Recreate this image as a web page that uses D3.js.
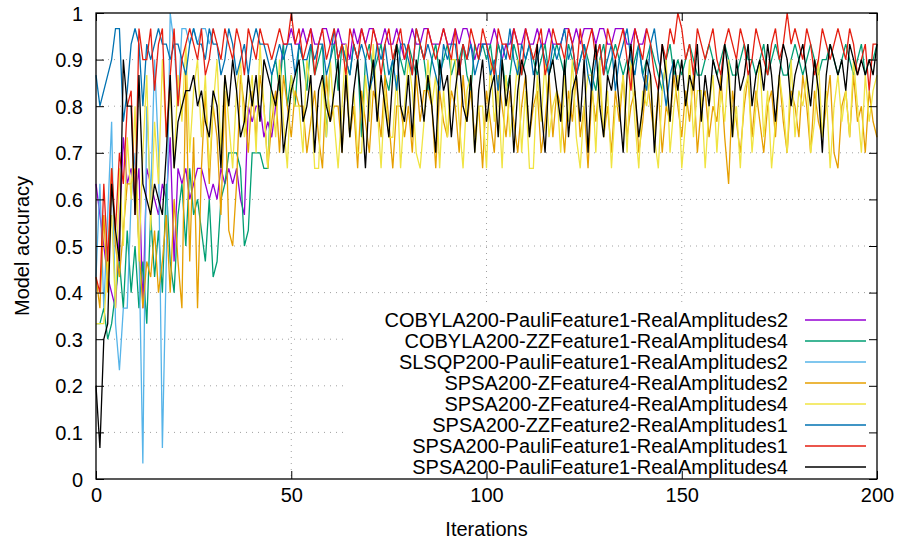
<!DOCTYPE html>
<html>
<head>
<meta charset="utf-8">
<script src="https://cdn.jsdelivr.net/npm/d3@7"></script>
<style>
  body { margin: 0; background: #fff; }
  svg text { font-family: "Liberation Sans", Arial, Helvetica, sans-serif; fill: #000; }
</style>
</head>
<body>
<div id="chart"></div>
<script>
// Correct answers out of 30 test samples, one value per iteration (starting at 0)
const TEST_SIZE = 30;

const cobylaPauliRA2 = [
  19,17,15,13,12,11,16,22,19,20, 18,20,11,20,19,18,17,19,18,22,
  14,20,19,20,18,19,20,20,19,18, 19,18,20,19,20,19,20,18,17,24,
  23,24,24,22,23,22,24,26,28,28, 29,28,28,29,28,29,28,28,29,29,
  28,28,29,28,28,27,29,28,29,28, 29,29,28,28,29,28,28,29,28,27,
  28,29,28,28,29,29,28,28,28,29, 28,28,29,28,29,29,28,27,28,28,
  28,28,29,28,27,28,28,29,28,28, 29,28,28,29,28,28,29,28,28,28,
  29,29,28,29,28,29,29,29,28,29, 29,28,28,29,29,29,28,28,29,28,
  28,29
];

const cobylaZZRA4 = [
  10,10,11,9,10,12,14,11,16,12, 15,11,14,10,17,13,16,12,19,14,
  12,17,19,15,20,17,18,16,14,18, 13,14,18,19,21,21,21,20,15,16,
  21,21,21,20,20,26,27,25,28,24, 26,24,28,27,25,28,26,27,28,22,
  27,28,25,28,27,26,28,27,22,27, 28,26,27,28,26,25,27,28,27,26,
  28,27,26,28,27,25,27,28,26,27, 28,26,27,27,28,26,25,28,27,28,
  27,28,26,28,27,25,26,28,27,26, 27,28,27,26,27,28,26,27,28,27,
  26,28,27,26,27,28,27,26,25,27, 28,26,27,28,27,26,27,26,27,28,
  26,27,28,27,26,25,27,28,26,27, 26,27,28,27,26,26,27,28,27,26,
  27,28,27,26,26,27,28,27,27,26, 27,28,26,27,28,27,26,26,27,28,
  27,26,27,28,27,26,27,27,28,27, 26,27,28,27,26,27,28,26,27,27,
  28
];

const slsqpPauliRA2 = [
  13,19,11,17,23,10,7,11,11,18, 21,15,1,24,18,27,21,2,14,30,
  28,24,29,29,28,29,28,29,29,28, 29
];

const spsaZRA2 = [
  13,11,17,12,20,15,13,16,19,19, 20,15,11,14,13,16,12,14,17,12,
  18,14,11,26,14,22,11,20,25,19, 24,22,17,25,16,15,19,26,24,21,
  25,22,26,24,20,23,25,21,26,24, 22,25,24,24,21,23,25,22,20,26,
  23,24,24,21,26,22,24,20,25,23, 21,25,24,22,26,23,20,24,24,22,
  24,21,26,23,25,25,24,20,25,23, 22,25,24,21,26,23,25,22,24,20,
  25,23,21,26,24,22,25,23,21,24, 26,22,24,25,21,23,26,22,25,24,
  21,25,23,26,22,24,20,25,23,26, 22,24,21,25,23,26,22,24,25,21,
  23,26,24,22,25,21,24,23,26,24, 22,25,23,26,21,24,25,22,24,23,
  26,22,19,25,23,21,24,26,22,25, 23,21,24,25,22,26,23,21,25,24,
  22,26,24,21,25,23,22,24,26,21, 20,24,25,22,26,23,24,21,25,23,
  22
];

const spsaZRA4 = [
  10,10,10,14,17,11,20,15,22,18, 24,14,21,26,16,23,19,27,22,25,
  20,26,23,28,21,25,27,22,26,20, 24,27,21,26,23,20,25,27,22,24,
  26,21,28,24,20,25,22,27,23,20, 26,24,24,21,27,25,20,20,26,22,
  27,23,20,24,28,22,25,21,21,26, 23,28,24,20,25,22,22,26,20,24,
  27,25,21,20,23,27,24,26,20,25, 22,27,27,23,20,25,26,21,24,24,
  20,27,23,25,20,26,22,24,27,21, 25,20,20,26,23,27,22,24,25,21,
  26,23,27,22,20,24,26,26,21,27, 22,25,20,24,24,26,21,27,23,20,
  25,24,26,22,20,25,27,21,24,26, 20,23,27,22,25,25,20,24,26,21,
  25,23,27,22,24,20,25,26,21,24, 27,22,25,20,23,26,24,21,27,22,
  25,24,26,21,23,27,22,25,20,24, 26,23,25,22,27,24,21,26,23,25,
  26
];

const spsaZZRA1 = [
  26,24,25,26,27,29,29,23,25,28, 29,28,24,28,27,28,29,28,28,27,
  28,28,27,26,28,29,28,28,27,29, 28,28,26,27,29,28,26,27,28,26,
  28,29,28,28,27,26,27,28,27,28, 28,26,28,27,27,28,27,28,28,26,
  27,29,27,28,27,26,28,27,28,27, 25,26,28,27,28,26,27,25,28,28,
  27,26,29,28,27,28,27,26,25,28, 27,28,28,26,28,27,28,26,27,28,
  28,26,27,25,28,27,29,27,26,28, 27,28,26,27,28,27,26,28,27,28,
  29,27,28,26,27,28,26,25,27,28, 26,27,28,25,27,28,29,27,26,28,
  26,25,28,29,27,26,24,26,27
];

const spsaPauliRA1 = [
  13,12,19,14,20,16,21,19,24,25, 17,29,27,27,29,25,28,29,22,26,
  29,24,27,28,29,28,27,29,26,27, 29,28,27,29,28,27,29,28,26,29,
  28,27,29,28,28,27,28,29,28,28, 30,28,29,27,28,29,26,28,29,27,
  28,29,27,28,26,29,28,27,29,28, 27,29,28,26,28,29,27,28,29,27,
  28,26,29,28,27,29,28,27,28,29, 28,27,29,26,28,27,29,28,27,29,
  28,27,26,29,28,28,27,29,28,26, 29,28,27,28,29,26,27,29,28,28,
  27,29,28,26,29,27,28,29,27,28, 26,29,28,27,28,29,27,25,29,28,
  27,29,28,26,25,28,27,29,28,30, 29,27,28,26,29,28,27,28,29,27,
  26,28,29,28,27,29,28,26,27,29, 28,27,26,28,29,27,28,30,28,29,
  28,27,29,28,26,27,29,28,27,28, 29,28,27,29,28,26,27,28,25,28,
  28
];

const spsaPauliRA4 = [
  6,2,9,10,19,16,14,27,24,24, 17,26,19,18,17,19,18,17,21,26,
  20,23,24,25,25,26,24,25,23,22, 25,24,20,26,24,27,25,22,23,26,
  24,26,23,27,26,25,24,26,21,23, 25,26,27,23,24,26,21,25,26,24,
  23,25,27,21,26,22,25,27,24,20, 25,27,23,26,24,22,26,28,24,23,
  26,22,27,25,23,26,24,21,27,25, 26,22,25,27,24,23,26,21,25,27,
  23,25,26,22,27,24,26,21,25,27, 26,22,25,28,24,21,26,27,25,23,
  27,22,25,26,23,27,21,26,28,24, 22,26,25,27,24,21,26,28,25,22,
  24,27,26,21,25,28,26,23,27,25, 27,24,26,25,28,23,26,24,27,26,
  25,28,26,22,27,25,26,28,24,26, 27,25,28,26,23,26,28,27,24,26,
  27,28,26,24,27,25,21,26,28,27, 26,27,25,28,27,26,27,26,27,26,
  28
];

const seriesNames = [
  "COBYLA200-PauliFeature1-RealAmplitudes2",
  "COBYLA200-ZZFeature1-RealAmplitudes4",
  "SLSQP200-PauliFeature1-RealAmplitudes2",
  "SPSA200-ZFeature4-RealAmplitudes2",
  "SPSA200-ZFeature4-RealAmplitudes4",
  "SPSA200-ZZFeature2-RealAmplitudes1",
  "SPSA200-PauliFeature1-RealAmplitudes1",
  "SPSA200-PauliFeature1-RealAmplitudes4"
];
const seriesValues = [cobylaPauliRA2, cobylaZZRA4, slsqpPauliRA2, spsaZRA2, spsaZRA4, spsaZZRA1, spsaPauliRA1, spsaPauliRA4];
const seriesColors = ["#9400d3", "#009e73", "#56b4e9", "#e69f00", "#f0e442", "#0072b2", "#e51e10", "#000000"];

const xTicks = [0, 50, 100, 150, 200];
const yTicks = [0, 0.1, 0.2, 0.3, 0.4, 0.5, 0.6, 0.7, 0.8, 0.9, 1];

const W = 898, H = 542;
const margin = {top: 13, right: 21, bottom: 63, left: 96};
const width = W - margin.left - margin.right;
const height = H - margin.top - margin.bottom;
const fontSize = "20px";

const svg = d3.select("#chart").append("svg")
  .attr("width", W).attr("height", H);
const g = svg.append("g").attr("transform", `translate(${margin.left},${margin.top})`);

const x = d3.scaleLinear().domain([0, 200]).range([0, width]);
const y = d3.scaleLinear().domain([0, 1]).range([height, 0]);

// Grid (dotted, gnuplot style)
g.append("g").selectAll("line").data(yTicks.slice(1, -1)).join("line")
  .attr("x1", 0).attr("x2", width)
  .attr("y1", d => y(d)).attr("y2", d => y(d))
  .attr("stroke", "#a0a0a0").attr("stroke-width", 1).attr("stroke-dasharray", "1,5");
g.append("g").selectAll("line").data(xTicks.slice(1, -1)).join("line")
  .attr("x1", d => x(d)).attr("x2", d => x(d))
  .attr("y1", 0).attr("y2", height)
  .attr("stroke", "#a0a0a0").attr("stroke-width", 1).attr("stroke-dasharray", "1,5");

// Opaque key box
const keyBox = {x: 249, y: 292, w: width - 249, h: height - 292};
g.append("rect")
  .attr("x", keyBox.x).attr("y", keyBox.y)
  .attr("width", keyBox.w).attr("height", keyBox.h)
  .attr("fill", "#fff");

// Lines
const line = d3.line()
  .x((d, i) => x(i))
  .y(d => y(d / TEST_SIZE));

seriesValues.forEach((vals, k) => {
  g.append("path")
    .datum(vals)
    .attr("fill", "none")
    .attr("stroke", seriesColors[k])
    .attr("stroke-width", 1.3)
    .attr("d", line);
});

// Axes with inward ticks on all four sides
const tickLen = 8;
const axisBottom = g.append("g").attr("transform", `translate(0,${height})`)
  .call(d3.axisBottom(x).tickValues(xTicks).tickSizeInner(-tickLen).tickSizeOuter(0).tickPadding(9));
const axisTop = g.append("g")
  .call(d3.axisTop(x).tickValues(xTicks).tickSizeInner(-tickLen).tickSizeOuter(0).tickFormat(""));
const axisLeft = g.append("g")
  .call(d3.axisLeft(y).tickValues(yTicks).tickSizeInner(-tickLen).tickSizeOuter(0).tickPadding(13)
    .tickFormat(d3.format("")));
const axisRight = g.append("g").attr("transform", `translate(${width},0)`)
  .call(d3.axisRight(y).tickValues(yTicks).tickSizeInner(-tickLen).tickSizeOuter(0).tickFormat(""));

[axisBottom, axisTop, axisLeft, axisRight].forEach(a => {
  a.select(".domain").remove();
  a.selectAll(".tick line").attr("stroke", "#000").attr("stroke-width", 1);
  a.selectAll("text").style("font-size", fontSize).attr("fill", "#000");
});
axisLeft.selectAll("text").attr("dy", "0.35em");

// Border
g.append("rect")
  .attr("width", width).attr("height", height)
  .attr("fill", "none").attr("stroke", "#000").attr("stroke-width", 1.3);

// Axis titles
svg.append("text")
  .attr("x", margin.left + width / 2).attr("y", 536)
  .attr("text-anchor", "middle").style("font-size", fontSize)
  .text("Iterations");
svg.append("text")
  .attr("transform", `translate(29,${margin.top + height / 2}) rotate(-90)`)
  .attr("text-anchor", "middle").style("font-size", fontSize)
  .text("Model accuracy");

// Key
const key = g.append("g").attr("transform", `translate(0,${keyBox.y})`);
const rowH = 21;
seriesNames.forEach((name, k) => {
  const ry = 15 + k * rowH;
  key.append("text")
    .attr("x", 692).attr("y", ry).attr("dy", "0.35em")
    .attr("text-anchor", "end").style("font-size", fontSize)
    .text(name);
  key.append("line")
    .attr("x1", 709).attr("x2", 770)
    .attr("y1", ry).attr("y2", ry)
    .attr("stroke", seriesColors[k]).attr("stroke-width", 1.3);
});
</script>
</body>
</html>
